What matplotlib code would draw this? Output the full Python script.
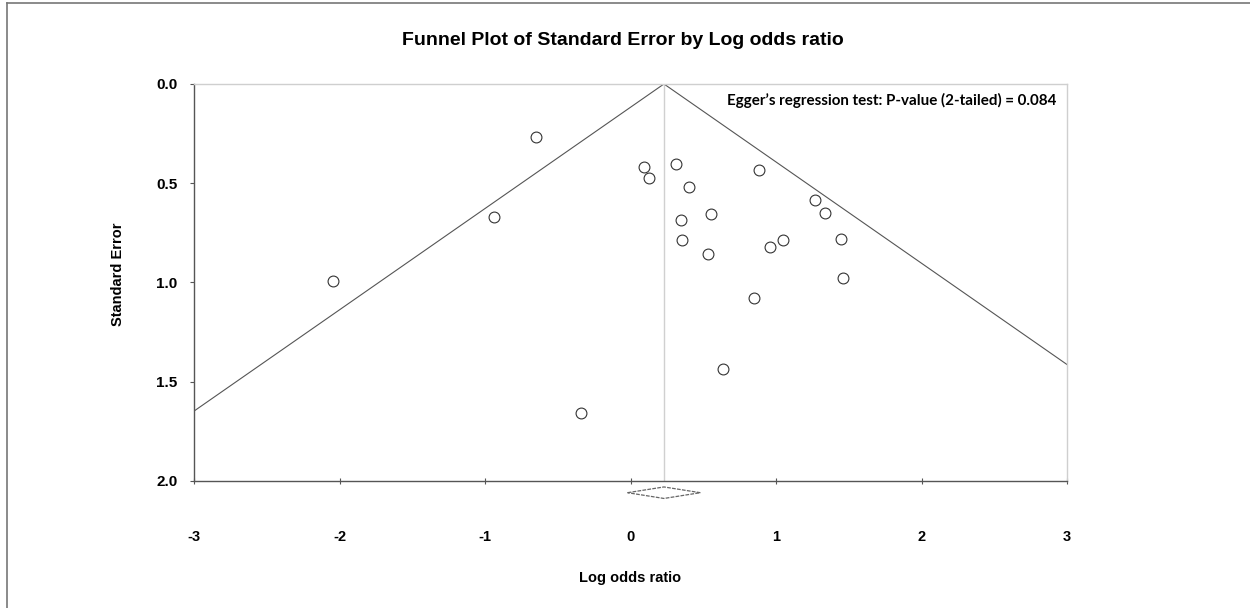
import matplotlib
matplotlib.use('Agg')
import matplotlib.pyplot as plt
import matplotlib.transforms as mtransforms
from matplotlib.lines import Line2D
from matplotlib.patches import Polygon
import numpy as np

# study-level effects (log odds ratio) and their standard errors
log_or = [-0.651, -0.938, 0.095, 0.127, 0.313, 0.400, 0.885, 1.268, 1.339,
          0.347, 0.553, 0.352, 1.046, 0.959, 1.449, 0.535, 1.458, 0.847,
          0.636, -2.042, -0.342]
std_err = [0.267, 0.670, 0.420, 0.475, 0.403, 0.519, 0.433, 0.586, 0.648,
           0.685, 0.656, 0.786, 0.786, 0.823, 0.781, 0.855, 0.979, 1.076,
           1.436, 0.994, 1.656]

# pooled estimate and its 95% CI
pooled = 0.23
pooled_ci = [-0.02, 0.48]
z = 1.96

x_ticks = [-3, -2, -1, 0, 1, 2, 3]
y_ticks = [0.0, 0.5, 1.0, 1.5, 2.0]
egger_p = 0.084

plt.rcParams['font.family'] = ['Liberation Sans', 'DejaVu Sans']

fig = plt.figure(figsize=(12.5, 6.08), dpi=100)
ax = fig.add_axes([0.1552, 0.2089, 0.6984, 0.6530])

ax.set_xlim(-3, 3)
ax.set_ylim(2.0, 0.0)

# funnel: pseudo 95% limits around the pooled estimate
se_line = np.array([0.0, 2.5])
ax.plot(pooled - z * se_line, se_line, color='#555555', lw=0.8)
ax.plot(pooled + z * se_line, se_line, color='#555555', lw=0.8)
ax.axvline(pooled, color='#d0d0d0', lw=1.0, zorder=1)

ax.plot(log_or, std_err, 'o', ms=7.8, mfc='white', mec='#333333', mew=0.8, zorder=3)

# diamond for the pooled estimate just under the axis
trans = mtransforms.blended_transform_factory(ax.transData, ax.transAxes)
yc, hh = -0.0295, 0.0145
diamond = Polygon([[pooled_ci[0], yc], [pooled, yc + hh], [pooled_ci[1], yc], [pooled, yc - hh]],
                  closed=True, fill=False, edgecolor='#666666', lw=0.9,
                  linestyle=(0, (3, 1)), transform=trans, clip_on=False)
ax.add_patch(diamond)

ax.set_xticks(x_ticks)
ax.set_xticklabels([str(t) for t in x_ticks], fontweight='bold', fontsize=10.5)
ax.set_yticks(y_ticks)
ax.set_yticklabels([f'{t:.1f}' for t in y_ticks], fontweight='bold', fontsize=11)
ax.tick_params(axis='x', direction='inout', length=5, width=0.8, color='#555555', pad=33)
ax.tick_params(axis='y', direction='out', length=3, width=0.8, color='#555555', pad=9)

for side in ['left', 'bottom']:
    ax.spines[side].set_color('#555555')
    ax.spines[side].set_linewidth(1.0)
for side in ['top', 'right']:
    ax.spines[side].set_color('#cfcfcf')
    ax.spines[side].set_linewidth(1.0)

ax.text(0.5, -0.245, 'Log odds ratio', transform=ax.transAxes, ha='center', va='center',
        fontsize=10.5, fontweight='bold')
ax.text(-0.087, 0.52, 'Standard Error', transform=ax.transAxes, ha='center', va='center',
        rotation=90, fontsize=10.5, fontweight='bold')

ax.text(0.988, 0.958, f'Egger\u2019s regression test: P-value (2-tailed) = {egger_p:.3f}',
        transform=ax.transAxes, ha='right', va='center', fontsize=10.9, fontweight='bold',
        family=['Lato', 'DejaVu Sans'])

fig.text(0.4985, 1 - 40.5 / 608, 'Funnel Plot of Standard Error by Log odds ratio',
         ha='center', va='center', fontsize=14, fontweight='bold')

# thin frame along the top and left edges
fig.add_artist(Line2D([7 / 1250, 1.0], [1 - 2.5 / 608, 1 - 2.5 / 608], color='#777777', lw=1.2,
                      transform=fig.transFigure))
fig.add_artist(Line2D([7 / 1250, 7 / 1250], [0.0, 1 - 2.5 / 608], color='#777777', lw=1.2,
                      transform=fig.transFigure))

fig.savefig('out.png', dpi=100, facecolor='white')
